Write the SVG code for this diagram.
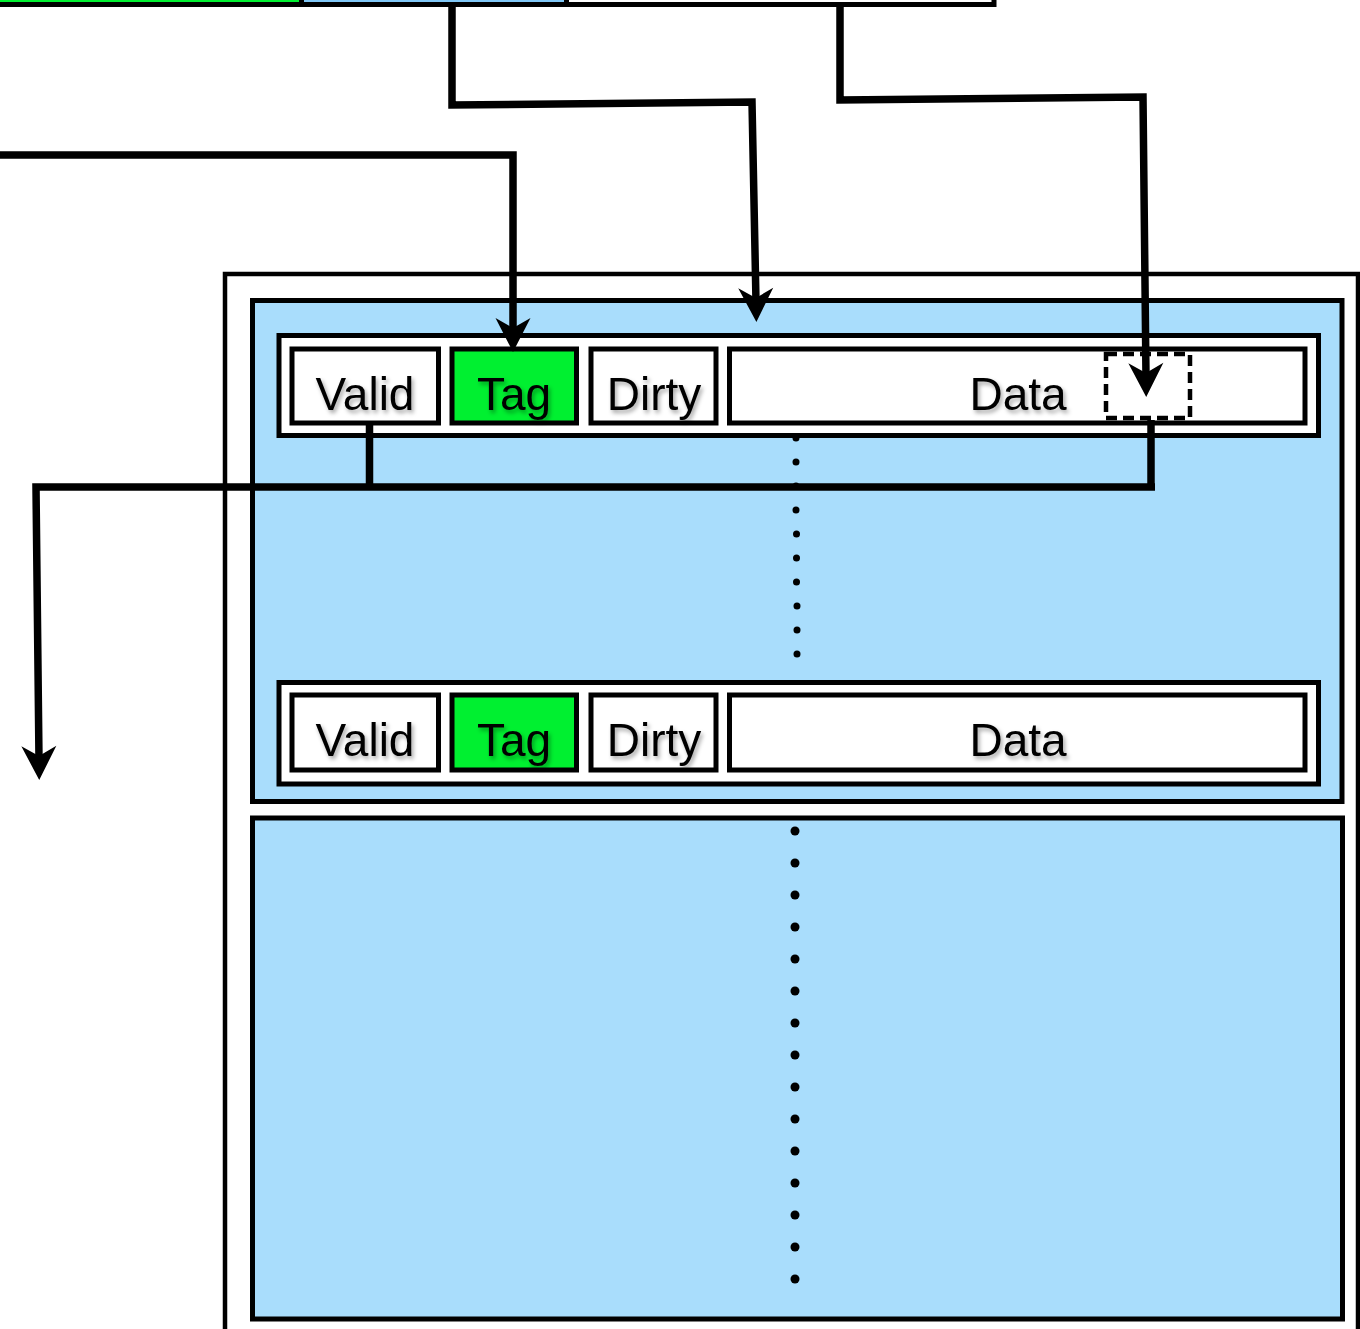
<svg xmlns="http://www.w3.org/2000/svg" width="1360" height="1329" viewBox="0 0 1360 1329">
  <defs>
    <style>
      .box { stroke: #000; stroke-width: 5; }
      .outer { fill: #fff; stroke: #000; stroke-width: 4.5; }
      .set { fill: #a9ddfc; stroke: #000; stroke-width: 5; }
      .row { fill: #fff; stroke: #000; stroke-width: 5; }
      .cell { fill: #fff; stroke: #000; stroke-width: 5; }
      .tag { fill: #00f030; }
      .sel { fill: none; stroke: #000; stroke-width: 4.5; stroke-dasharray: 11 6; }
      .lbl { font-family: "Liberation Sans", Arial, Helvetica, sans-serif; font-size: 46px; fill: #000; text-anchor: middle; filter: url(#shadow); }
      .wire { fill: none; stroke: #000; stroke-width: 7.5; stroke-linejoin: miter; }
      .arrow { marker-end: url(#head); }
      .dot { fill: #000; }
    </style>
    <marker id="head" markerUnits="userSpaceOnUse" markerWidth="60" markerHeight="60" viewBox="-30 -30 60 60" refX="0" refY="0" orient="auto" overflow="visible">
      <path d="M20,0 L-14,-17.5 L-4,0 L-14,17.5 Z" fill="#000"/>
    </marker>
    <filter id="shadow" x="-20%" y="-20%" width="140%" height="160%">
      <feDropShadow dx="2" dy="3" stdDeviation="2" flood-color="#000" flood-opacity="0.35"/>
    </filter>
  </defs>

  <!-- address fields along the top edge -->
  <g id="address">
    <rect class="box" x="-10" y="-50" width="311.5" height="54.5" fill="#00f030"/>
    <rect class="box" x="301.5" y="-50" width="265" height="54.5" fill="#7fc6f5"/>
    <rect class="box" x="566.5" y="-50" width="427.5" height="54.5" fill="#fff"/>
  </g>

  <!-- cache outline -->
  <g id="cache">
    <rect class="outer" x="225" y="274" width="1133" height="1100"/>
  </g>

  <!-- first set -->
  <g id="set-1">
    <rect class="set" x="252.5" y="300.5" width="1089.5" height="501"/>
    <g id="set-1-dots">
      <circle class="dot" cx="796" cy="438" r="3.5"/>
      <circle class="dot" cx="796" cy="462" r="3.5"/>
      <circle class="dot" cx="796" cy="486" r="3.5"/>
      <circle class="dot" cx="796" cy="510" r="3.5"/>
      <circle class="dot" cx="796.5" cy="534" r="3.5"/>
      <circle class="dot" cx="796.5" cy="558" r="3.5"/>
      <circle class="dot" cx="796.5" cy="582" r="3.5"/>
      <circle class="dot" cx="797" cy="606" r="3.5"/>
      <circle class="dot" cx="797" cy="630" r="3.5"/>
      <circle class="dot" cx="797" cy="654" r="3.5"/>
    </g>
  </g>

  <!-- first line of the set -->
  <g id="line-1">
    <rect class="row" x="279" y="335.5" width="1039.5" height="100"/>
    <rect class="cell" x="292" y="349" width="146.5" height="74"/>
    <rect class="cell tag" x="452" y="349" width="124.5" height="74"/>
    <rect class="cell" x="591" y="349" width="125" height="74"/>
    <rect class="cell" x="729.5" y="349" width="575.5" height="74"/>
    <rect class="sel" x="1106" y="354" width="84" height="64"/>
    <text class="lbl" x="365" y="410">Valid</text>
    <text class="lbl" x="514" y="410">Tag</text>
    <text class="lbl" x="654" y="410">Dirty</text>
    <text class="lbl" x="1018" y="410">Data</text>
  </g>

  <!-- last line of the set -->
  <g id="line-n">
    <rect class="row" x="279" y="682.5" width="1039.5" height="101.5"/>
    <rect class="cell" x="292" y="695" width="146.5" height="75"/>
    <rect class="cell tag" x="452" y="695" width="124.5" height="75"/>
    <rect class="cell" x="591" y="695" width="125" height="75"/>
    <rect class="cell" x="729.5" y="695" width="575.5" height="75"/>
    <text class="lbl" x="365" y="756">Valid</text>
    <text class="lbl" x="514" y="756">Tag</text>
    <text class="lbl" x="654" y="756">Dirty</text>
    <text class="lbl" x="1018" y="756">Data</text>
  </g>

  <!-- remaining sets -->
  <g id="set-2">
    <rect class="set" x="252.5" y="818" width="1090" height="501"/>
    <g id="set-2-dots">
      <circle class="dot" cx="795" cy="831" r="4.5"/>
      <circle class="dot" cx="795" cy="863" r="4.5"/>
      <circle class="dot" cx="795" cy="895" r="4.5"/>
      <circle class="dot" cx="795" cy="927" r="4.5"/>
      <circle class="dot" cx="795" cy="959" r="4.5"/>
      <circle class="dot" cx="795" cy="991" r="4.5"/>
      <circle class="dot" cx="795" cy="1023" r="4.5"/>
      <circle class="dot" cx="795" cy="1055" r="4.5"/>
      <circle class="dot" cx="795" cy="1087" r="4.5"/>
      <circle class="dot" cx="795" cy="1119" r="4.5"/>
      <circle class="dot" cx="795" cy="1151" r="4.5"/>
      <circle class="dot" cx="795" cy="1183" r="4.5"/>
      <circle class="dot" cx="795" cy="1215" r="4.5"/>
      <circle class="dot" cx="795" cy="1247" r="4.5"/>
      <circle class="dot" cx="795" cy="1279" r="4.5"/>
    </g>
  </g>

  <!-- wires -->
  <g id="connectors">
    <path class="wire arrow" d="M0,155 L513,155 L513,332"/>
    <path class="wire arrow" d="M452,7 L452,105 L752,102 L756,302"/>
    <path class="wire arrow" d="M840,7 L840,100 L1143,97 L1146,377"/>
    <path class="wire" d="M369.5,425 L369.5,487"/>
    <path class="wire" d="M1151,420 L1151,487"/>
    <path class="wire arrow" d="M1155,487 L36,487 L39,760"/>
  </g>
</svg>
